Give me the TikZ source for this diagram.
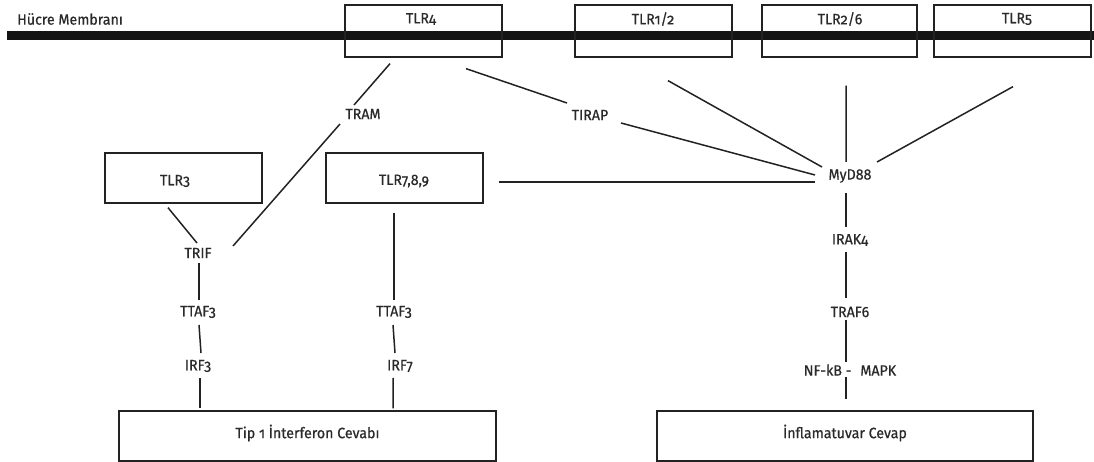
\documentclass[tikz,border=0pt]{standalone}
\usepackage{fontspec}
\setmainfont{Fira Sans}[Numbers=OldStyle, FakeBold=0.6, FakeStretch=0.95]
\definecolor{ink}{HTML}{222222}
\definecolor{txt}{HTML}{2A2A2A}
\begin{document}
\begin{tikzpicture}[x=1bp,y=-1bp,
  box/.style={draw=ink, line width=1.3bp, inner sep=0pt},
  lbl/.style={font=\fontsize{15}{17}\selectfont, text=txt, inner sep=0pt},
  conn/.style={draw=ink, line width=1.5bp}]
\useasboundingbox (0,0) rectangle (1094,462);
% membrane
\fill[black!92] (7,31) rectangle (1094,40);
\node[lbl, anchor=west] (mem) at (17,19) {Hücre Membranı};
% receptor boxes
\node[box, minimum width=157bp, minimum height=52bp] (tlr4) at (423.5,31) {};
\node[box, minimum width=157bp, minimum height=52bp] (tlr12) at (653.5,31) {};
\node[box, minimum width=155bp, minimum height=52bp] (tlr26) at (839.5,31) {};
\node[box, minimum width=157bp, minimum height=52bp] (tlr5) at (1012.5,31) {};
\node[lbl] (tlr4t) at (421,19) {TLR4};
\node[lbl] (tlr12t) at (653,19) {TLR1/2};
\node[lbl] (tlr26t) at (840,19) {TLR2/6};
\node[lbl] (tlr5t) at (1017,19) {TLR5};
\node[box, minimum width=157bp, minimum height=50bp] (tlr3) at (183.5,178) {};
\node[box, minimum width=157bp, minimum height=50bp] (tlr789) at (404.5,178) {};
\node[lbl] (tlr3t) at (175,181) {TLR3};
\node[lbl] (tlr789t) at (404,181) {TLR7,8,9};
% response boxes
\node[box, minimum width=377bp, minimum height=50bp] (tip) at (307.5,436) {};
\node[box, minimum width=376bp, minimum height=50bp] (infl) at (845,436) {};
\node[lbl] (tipt) at (307.5,433) {Tip 1 İnterferon Cevabı};
\node[lbl] (inflt) at (845,433) {İnflamatuvar Cevap};
% adaptors
\node[lbl] (tram) at (363,114) {TRAM};
\node[lbl] (tirap) at (590,115) {TIRAP};
\node[lbl] (myd) at (850,176) {MyD88};
\node[lbl] (irak) at (850,240) {IRAK4};
\node[lbl] (traf) at (850,312) {TRAF6};
\node[lbl] (nfkb) at (850,370) {NF-kB -\hspace{0.6em}MAPK};
\node[lbl] (trif) at (198,253) {TRIF};
\node[lbl] (ttafa) at (198,312) {TTAF3};
\node[lbl] (irf3) at (198,366) {IRF3};
\node[lbl] (ttafb) at (394,312) {TTAF3};
\node[lbl] (irf7) at (400,366) {IRF7};
% connectors
\draw[conn] ([shift={(-33.5,6)}]tlr4.south) -- ([shift={(-9,-9)}]tram.center);
\draw[conn] ([shift={(-23,10)}]tram.center) -- ([shift={(35,-7)}]trif.center);
\draw[conn] ([shift={(42.5,11)}]tlr4.south) -- ([shift={(-23,-12)}]tirap.center);
\draw[conn] ([shift={(31,8)}]tirap.center) -- ([shift={(-35,-1)}]myd.center);
\draw[conn] ([shift={(14.5,23)}]tlr12.south) -- ([shift={(-28,-9)}]myd.center);
\draw[conn] ([shift={(6.5,28)}]tlr26.south) -- ([shift={(-4,-14)}]myd.center);
\draw[conn] ([shift={(0.5,29)}]tlr5.south) -- ([shift={(27,-14)}]myd.center);
\draw[conn] ([shift={(15,4)}]tlr789.east) -- ([shift={(-35,6)}]myd.center);
\draw[conn] ([shift={(-4,17)}]myd.center) -- ([shift={(-4,-13)}]irak.center);
\draw[conn] ([shift={(-4,12)}]irak.center) -- ([shift={(-4,-14)}]traf.center);
\draw[conn] ([shift={(-4,8)}]traf.center) -- ([shift={(-4,-8)}]nfkb.center);
\draw[conn] ([shift={(-4,7)}]nfkb.center) -- ([shift={(1,-11)}]infl.north);
\draw[conn] ([shift={(-15.5,4)}]tlr3.south) -- ([shift={(-1,-10)}]trif.center);
\draw[conn] ([shift={(1,10)}]trif.center) -- ([shift={(1,-12)}]ttafa.center);
\draw[conn] ([shift={(1,13)}]ttafa.center) -- ([shift={(3,-13)}]irf3.center);
\draw[conn] ([shift={(2,12)}]irf3.center) -- ([shift={(-107.5,-2)}]tip.north);
\draw[conn] ([shift={(-10.5,9)}]tlr789.south) -- ([shift={(0,-12)}]ttafb.center);
\draw[conn] ([shift={(-1,13)}]ttafb.center) -- ([shift={(-5,-13)}]irf7.center);
\draw[conn] ([shift={(-7,12)}]irf7.center) -- ([shift={(85.5,-2)}]tip.north);
\end{tikzpicture}
\end{document}
